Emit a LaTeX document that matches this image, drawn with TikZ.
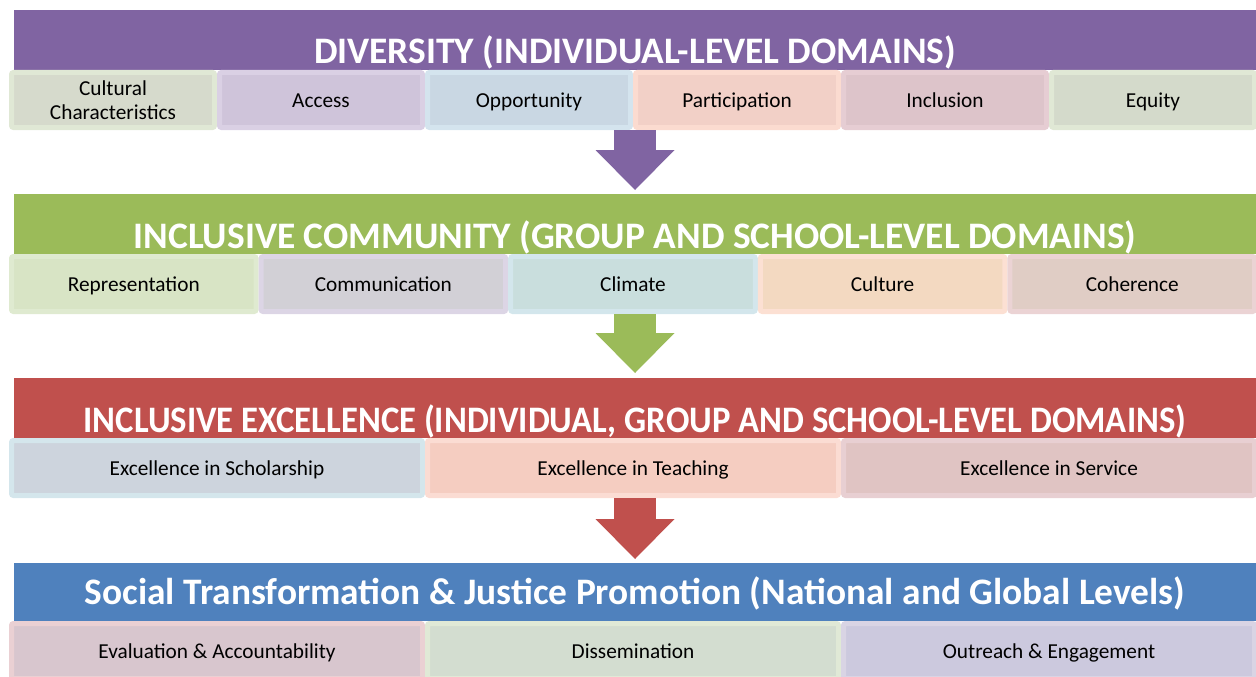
\documentclass[tikz,border=0pt]{standalone}
\usepackage{fontspec}
\setmainfont{Carlito}
\usepackage{tikz}
\usetikzlibrary{positioning,arrows.meta}

\definecolor{divpurple}{HTML}{8064A2}
\definecolor{comgreen}{HTML}{9BBB59}
\definecolor{excred}{HTML}{C0504D}
\definecolor{socblue}{HTML}{4F81BD}
% cell fills and rims
\definecolor{culturalfill}{HTML}{D6DACC}\definecolor{culturalrim}{HTML}{E0E8D5}
\definecolor{accessfill}{HTML}{CFC4DA}\definecolor{accessrim}{HTML}{DAD0E4}
\definecolor{oppfill}{HTML}{C9D7E3}\definecolor{opprim}{HTML}{D4E4EE}
\definecolor{partfill}{HTML}{F2D0C7}\definecolor{partrim}{HTML}{FBDBD0}
\definecolor{inclfill}{HTML}{DDC4CA}\definecolor{inclrim}{HTML}{E6CDD3}
\definecolor{equityfill}{HTML}{D4DACB}\definecolor{equityrim}{HTML}{E0E8D5}
\definecolor{reprfill}{HTML}{D8E4C5}\definecolor{reprrim}{HTML}{DFEAD0}
\definecolor{commfill}{HTML}{D2D0D6}\definecolor{commrim}{HTML}{DCD5E5}
\definecolor{climfill}{HTML}{C9DEDD}\definecolor{climrim}{HTML}{D3E6EC}
\definecolor{cultfill}{HTML}{F3D9C1}\definecolor{cultrim}{HTML}{FCE0D3}
\definecolor{cohfill}{HTML}{E0CDC5}\definecolor{cohrim}{HTML}{EBD3D4}
\definecolor{scholfill}{HTML}{CDD4DD}\definecolor{scholrim}{HTML}{D4E6EC}
\definecolor{teachfill}{HTML}{F5CDC1}\definecolor{teachrim}{HTML}{FBDCD3}
\definecolor{servfill}{HTML}{E0C4C3}\definecolor{servrim}{HTML}{E8CFD2}
\definecolor{evalfill}{HTML}{D8C6CE}\definecolor{evalrim}{HTML}{EAD0D3}
\definecolor{dissfill}{HTML}{D3DDD0}\definecolor{dissrim}{HTML}{E0E9D6}
\definecolor{outfill}{HTML}{CCC9DE}\definecolor{outrim}{HTML}{D9D4E4}

\newcommand{\bandfont}{\fontsize{37.4}{42}\selectfont\bfseries}
\newcommand{\cellfont}{\fontsize{21.3}{24}\selectfont}

\tikzset{
  bandbox/.style={rectangle, fill=#1, minimum width=1242pt, minimum height=60pt, inner sep=0pt, outer sep=0pt,
    text=white, font=\bandfont, text height=48pt, text depth=0pt},
  cellbox/.style={rectangle, rounded corners=2pt, fill=#1fill, draw=#1rim, line width=5pt, minimum height=55pt,
    inner sep=0pt, outer sep=2.5pt, font=\cellfont, align=center, text height=14pt, text depth=0pt},
  blockarrow/.style={draw=#1, line width=42pt, -{Triangle[length=40pt, width=79pt, line width=0pt]}}
}

\begin{document}
\begin{tikzpicture}[x=1pt, y=-1pt, node distance=0pt]
    \path[use as bounding box, clip] (0,0) rectangle (1256,677);

    % Diversity
    \node[bandbox=divpurple] (diversity) at (635,40) {DIVERSITY (INDIVIDUAL-LEVEL DOMAINS)};
    \node[cellbox=cultural, minimum width=203pt, anchor=north west, text height=, text depth=] (cultural) at (9,70) {Cultural\\ Characteristics};
    \node[cellbox=access, minimum width=203pt, right=of cultural] (access) {Access};
    \node[cellbox=opp, minimum width=203pt, right=of access] (opportunity) {Opportunity};
    \node[cellbox=part, minimum width=203pt, right=of opportunity] (participation) {Participation};
    \node[cellbox=incl, minimum width=203pt, right=of participation] (inclusion) {Inclusion};
    \node[cellbox=equity, minimum width=203pt, right=of inclusion] (equity) {Equity};

    % Inclusive community
    \node[bandbox=comgreen] (community) at (635,224) {INCLUSIVE COMMUNITY (GROUP AND SCHOOL-LEVEL DOMAINS)};
    \node[cellbox=repr, minimum width=244.6pt, anchor=north west] (representation) at (9,254) {Representation};
    \node[cellbox=comm, minimum width=244.6pt, right=of representation] (communication) {Communication};
    \node[cellbox=clim, minimum width=244.6pt, right=of communication] (climate) {Climate};
    \node[cellbox=cult, minimum width=244.6pt, right=of climate] (culture) {Culture};
    \node[cellbox=coh, minimum width=244.6pt, right=of culture] (coherence) {Coherence};

    % Inclusive excellence
    \node[bandbox=excred] (excellence) at (635,408) {\scalebox{0.928}[1]{INCLUSIVE EXCELLENCE (INDIVIDUAL, GROUP AND SCHOOL-LEVEL DOMAINS)}};
    \node[cellbox=schol, minimum width=411pt, anchor=north west] (scholarship) at (9,438) {Excellence in Scholarship};
    \node[cellbox=teach, minimum width=411pt, right=of scholarship] (teaching) {Excellence in Teaching};
    \node[cellbox=serv, minimum width=411pt, right=of teaching] (service) {Excellence in Service};

    % Social transformation
    \node[bandbox=socblue, minimum height=58pt, text height=24pt] (transformation) at (635,592) {Social Transformation \& Justice Promotion (National and Global Levels)};
    \node[cellbox=eval, minimum width=411pt, anchor=north west] (evaluation) at (9,621) {Evaluation \& Accountability};
    \node[cellbox=diss, minimum width=411pt, right=of evaluation] (dissemination) {Dissemination};
    \node[cellbox=out, minimum width=411pt, right=of dissemination] (outreach) {Outreach \& Engagement};

    \draw[blockarrow=divpurple] (diversity |- participation.south) -- ([yshift=4pt]community.north);
    \draw[blockarrow=comgreen] (community |- climate.south) -- ([yshift=5pt]excellence.north);
    \draw[blockarrow=excred] (excellence |- teaching.south) -- ([yshift=4pt]transformation.north);
\end{tikzpicture}
\end{document}
